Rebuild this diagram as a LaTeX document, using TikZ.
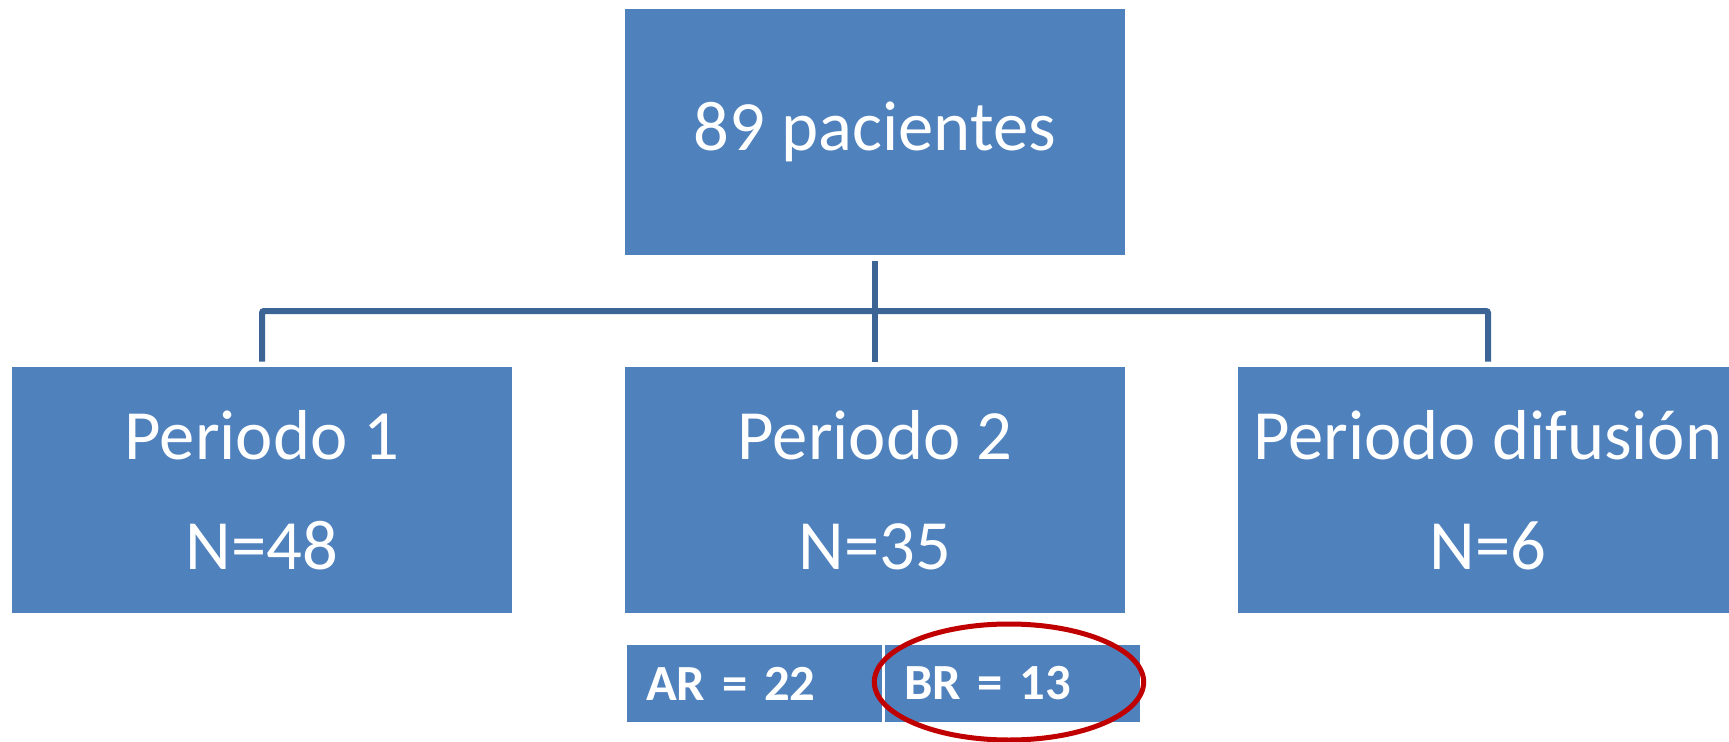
\documentclass[tikz,border=0pt]{standalone}
\usepackage{fontspec}
\setmainfont{Carlito}
\usetikzlibrary{shapes.geometric}
\definecolor{boxblue}{HTML}{4F81BD}
\definecolor{linkblue}{HTML}{3C6494}
\definecolor{ringred}{HTML}{C00000}
\newcommand\subfontset{\fontsize{38}{40}\selectfont\bfseries\spaceskip 0.16em\relax}
\begin{document}
\begin{tikzpicture}[x=0.75pt,y=-0.75pt,
 bigbox/.style={fill=boxblue,draw=none,minimum width=375pt,minimum height=184.5pt,inner sep=0pt,text=white,align=center,font=\fontsize{53}{82.5}\selectfont},
 subbox/.style={fill=boxblue,draw=none,minimum width=191.25pt,minimum height=57.75pt,inner xsep=14.25pt,inner ysep=0pt,text width=162.75pt,align=left,text=white,font=\subfontset},
 link/.style={draw=linkblue,line width=4.5pt,rounded corners=1.5pt},
 ring/.style={draw=ringred,line width=3.75pt,ellipse,inner sep=0pt,minimum width=202pt,minimum height=87pt}]
\useasboundingbox (0,0) rectangle (1729,742);
\clip (0,0) rectangle (1729,742);
\node[bigbox] (top) at (875,132) {89 pacientes};
\node[bigbox] (p1) at (262,490) {Periodo 1\\N=48};
\node[bigbox] (p2) at (875,490) {Periodo 2\\N=35};
\node[bigbox] (p3) at (1488,490) {Periodo difusión\\N=6};
\node[subbox] (ar) at (754.5,683.5) {AR = 22};
\node[subbox] (br) at (1012.5,683.5) {BR = 13};
\coordinate (hr) at (1488,311);
\draw[link] ([yshift=-4.5pt]top.south) -- ([yshift=3.75pt]p2.north);
\draw[link] ([yshift=3.75pt]p1.north) |- (hr) -- ([yshift=3.75pt]p3.north);
\node[ring] (circ) at (1009,682) {};
\end{tikzpicture}
\end{document}
